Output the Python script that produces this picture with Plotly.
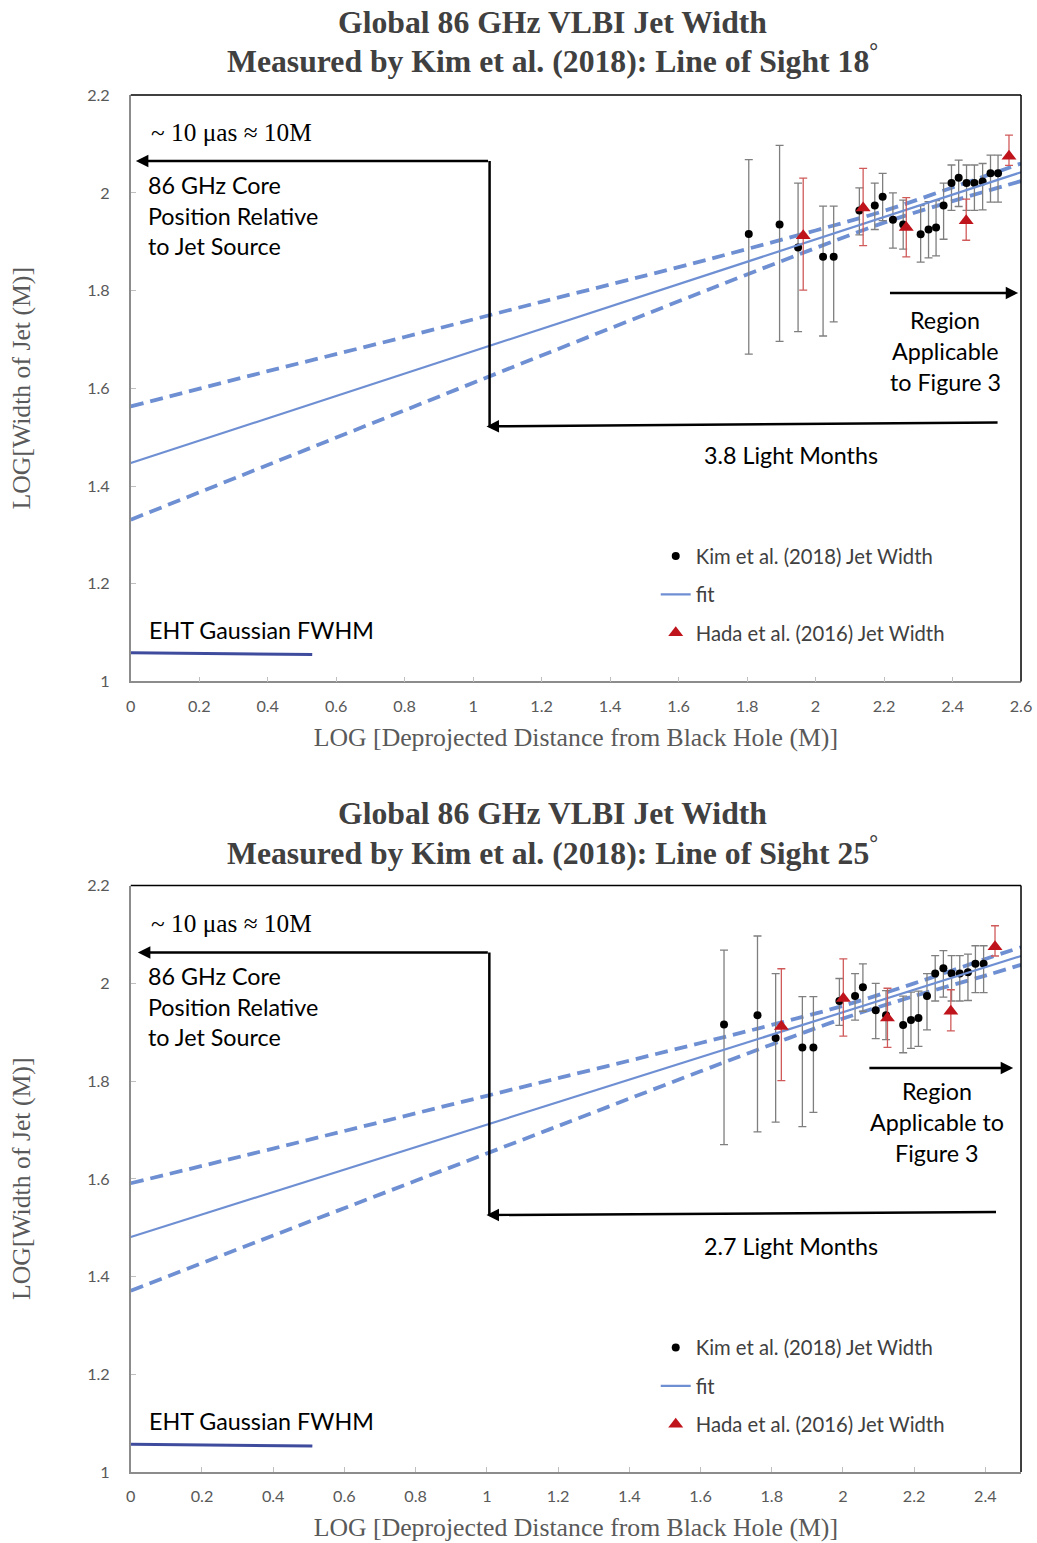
import plotly.graph_objects as go

# ---------------- data ----------------
kim_x18 = [1.805, 1.895, 1.949, 2.022, 2.053, 2.128, 2.173, 2.196, 2.226, 2.256, 2.307,
           2.330, 2.352, 2.374, 2.397, 2.418, 2.441, 2.464, 2.488, 2.511, 2.533]
kim_x25 = [1.666, 1.760, 1.811, 1.886, 1.917, 1.990, 2.034, 2.056, 2.092, 2.121, 2.169,
           2.191, 2.212, 2.236, 2.259, 2.282, 2.305, 2.328, 2.351, 2.372, 2.395]
kim_y = [1.916, 1.935, 1.888, 1.869, 1.869, 1.964, 1.974, 1.992, 1.945, 1.935, 1.915,
         1.925, 1.929, 1.974, 2.020, 2.031, 2.020, 2.020, 2.023, 2.040, 2.040]
kim_err_plus = [0.152, 0.162, 0.132, 0.104, 0.104, 0.046, 0.046, 0.048, 0.055, 0.050, 0.059,
                0.057, 0.055, 0.046, 0.037, 0.036, 0.037, 0.037, 0.037, 0.037, 0.037]
kim_err_minus = [0.246, 0.239, 0.172, 0.162, 0.133, 0.050, 0.049, 0.049, 0.058, 0.050, 0.057,
                 0.058, 0.058, 0.069, 0.056, 0.059, 0.056, 0.056, 0.058, 0.059, 0.059]

hada_x18 = [1.964, 2.139, 2.265, 2.440, 2.565]
hada_x25 = [1.827, 2.001, 2.125, 2.303, 2.427]
hada_y = [1.912, 1.969, 1.929, 1.943, 2.075]
hada_err_plus = [0.118, 0.081, 0.061, 0.044, 0.043]
hada_err_minus = [0.111, 0.077, 0.060, 0.040, 0.019]

fit_x18 = [0, 2.6]
fit_y18 = [1.447, 2.042]
band_x18 = [0, 0.4, 0.8, 1.2, 1.6, 1.8, 2.0, 2.2, 2.4, 2.6]
band_up18 = [1.563, 1.635, 1.705, 1.777, 1.848, 1.885, 1.923, 1.963, 2.011, 2.060]
band_lo18 = [1.331, 1.443, 1.555, 1.667, 1.778, 1.833, 1.887, 1.939, 1.983, 2.024]

fit_x25 = [0, 2.5]
fit_y25 = [1.481, 2.056]
band_x25 = [0, 0.4, 0.8, 1.2, 1.6, 1.8, 2.0, 2.2, 2.4, 2.5]
band_up25 = [1.591, 1.662, 1.734, 1.806, 1.878, 1.915, 1.954, 2.000, 2.050, 2.074]
band_lo25 = [1.371, 1.484, 1.596, 1.708, 1.820, 1.875, 1.928, 1.974, 2.016, 2.038]

eht_x18 = [0, 0.53]
eht_y18 = [1.059, 1.055]
eht_x25 = [0, 0.51]
eht_y25 = [1.057, 1.053]

core_x18 = [1.048, 0.015]
core_y18 = [2.065, 1.522]
lm_x18 = [2.536, 1.039]
lm_y18 = [1.530, 1.522]
reg_x18 = [2.213, 2.592]
reg_y18 = [1.795, 1.795]

core_x25 = [1.007, 0.020]
core_y25 = [2.063, 1.526]
lm_x25 = [2.434, 0.999]
lm_y25 = [1.532, 1.526]
reg_x25 = [2.070, 2.478]
reg_y25 = [1.827, 1.827]

x_ticks18 = [0, 0.2, 0.4, 0.6, 0.8, 1, 1.2, 1.4, 1.6, 1.8, 2, 2.2, 2.4, 2.6]
x_ticks25 = [0, 0.2, 0.4, 0.6, 0.8, 1, 1.2, 1.4, 1.6, 1.8, 2, 2.2, 2.4]
y_ticks = [1, 1.2, 1.4, 1.6, 1.8, 2, 2.2]

# ---------------- styling ----------------
W, H = 1037, 1543
# mapping from target picture pixels to figure pixels (compensates capture inset)
SX, OX = 0.9865, 4.0
SY, OY = 0.987, 10.0
K = 1 / SY                   # size compensation
FIT = "#6f8fd3"
RED = "#c0141c"
SANS = "Lato, 'Open Sans', sans-serif"
SERIF = "'Liberation Serif', 'Times New Roman', serif"


def px_x(p):
    return ((p - OX) / SX) / W


def px_y(p):
    return 1 - ((p - OY) / SY) / H


fig = go.Figure()


def add_panel(xa, ya, leg, kx, hx, fx, fy, bx, bup, blo, ex, ey):
    for band in (bup, blo):
        fig.add_trace(go.Scatter(x=bx, y=band, mode="lines", xaxis=xa, yaxis=ya, showlegend=False,
                                 line=dict(color=FIT, width=3.8, dash="13px,7px", shape="spline"),
                                 hoverinfo="skip"))
    fig.add_trace(go.Scatter(x=ex, y=ey, mode="lines", xaxis=xa, yaxis=ya, showlegend=False,
                             line=dict(color="#3f4c9e", width=3)))
    fig.add_trace(go.Scatter(x=kx, y=kim_y, mode="markers", xaxis=xa, yaxis=ya,
                             name="Kim et al. (2018) Jet Width", legend=leg, legendgroup=leg + "a",
                             marker=dict(color="black", size=8),
                             error_y=dict(type="data", symmetric=False, array=kim_err_plus,
                                          arrayminus=kim_err_minus, color="#7f7f7f",
                                          thickness=1.3, width=4)))
    fig.add_trace(go.Scatter(x=fx, y=fy, mode="lines", xaxis=xa, yaxis=ya,
                             name="fit", legend=leg, legendgroup=leg + "b",
                             line=dict(color=FIT, width=2.2)))
    fig.add_trace(go.Scatter(x=hx, y=hada_y, mode="markers", xaxis=xa, yaxis=ya,
                             name="Hada et al. (2016) Jet Width", legend=leg, legendgroup=leg + "c",
                             marker=dict(color=RED, size=13, symbol="triangle-up"),
                             error_y=dict(type="data", symmetric=False, array=hada_err_plus,
                                          arrayminus=hada_err_minus, color="#d05a5a",
                                          thickness=1.3, width=4)))


add_panel("x", "y", "legend", kim_x18, hada_x18, fit_x18, fit_y18,
          band_x18, band_up18, band_lo18, eht_x18, eht_y18)
add_panel("x2", "y2", "legend2", kim_x25, hada_x25, fit_x25, fit_y25,
          band_x25, band_up25, band_lo25, eht_x25, eht_y25)

xdom = [px_x(130), px_x(1022)]
top_dom = [px_y(681), px_y(95)]
bot_dom = [px_y(1471), px_y(885)]

axis_common = dict(showgrid=False, zeroline=False, showline=True, linecolor="#8c8c8c",
                   linewidth=1.5, ticks="inside", ticklen=5, tickcolor="#bfbfbf",
                   ticklabeloverflow="allow",
                   tickfont=dict(family=SANS, size=16 * K, color="#595959"))

xtitle = "LOG [Deprojected Distance from Black Hole (M)]"
ytitle = "LOG[Width of Jet (M)]"
tfont = dict(family=SERIF, size=25.4 * K, color="#595959")

fig.update_layout(
    width=W, height=H, margin=dict(l=0, r=0, t=0, b=0),
    paper_bgcolor="white", plot_bgcolor="white",
    xaxis=dict(domain=xdom, range=[0, 2.6001], anchor="y", tickvals=x_ticks18,
               title=dict(text=xtitle, font=tfont, standoff=14), ticklabelstandoff=9, **axis_common),
    yaxis=dict(domain=top_dom, range=[1, 2.2001], anchor="x", tickvals=y_ticks,
               title=dict(text=ytitle, font=tfont, standoff=49), ticklabelstandoff=16, **axis_common),
    xaxis2=dict(domain=xdom, range=[0, 2.5], anchor="y2", tickvals=x_ticks25,
                title=dict(text=xtitle, font=tfont, standoff=14), ticklabelstandoff=9, **axis_common),
    yaxis2=dict(domain=bot_dom, range=[1, 2.2001], anchor="x2", tickvals=y_ticks,
                title=dict(text=ytitle, font=tfont, standoff=49), ticklabelstandoff=16, **axis_common),
    legend=dict(x=px_x(656), y=px_y(536), xanchor="left", yanchor="top", bgcolor="rgba(0,0,0,0)",
                font=dict(family=SANS, size=20 * K, color="#404040"), tracegroupgap=9),
    legend2=dict(x=px_x(656), y=px_y(1327), xanchor="left", yanchor="top", bgcolor="rgba(0,0,0,0)",
                 font=dict(family=SANS, size=20 * K, color="#404040"), tracegroupgap=9),
    showlegend=True,
)

shapes = []
annots = []

for dom in (top_dom, bot_dom):
    shapes.append(dict(type="line", xref="paper", yref="paper", x0=xdom[0], x1=xdom[1],
                       y0=dom[1], y1=dom[1], line=dict(color="black", width=1.5)))
    shapes.append(dict(type="line", xref="paper", yref="paper", x0=xdom[1], x1=xdom[1],
                       y0=dom[0], y1=dom[1], line=dict(color="black", width=1.5)))


def arrow(xr, yr, x_tip, y_tip, x_from, y_from):
    annots.append(dict(x=x_tip, y=y_tip, ax=x_from, ay=y_from, xref=xr, yref=yr,
                       axref=xr, ayref=yr, text="", showarrow=True, arrowhead=2,
                       arrowsize=1, arrowwidth=2.5, arrowcolor="black", standoff=0, startstandoff=0))


def panel_annots(xr, yr, core_x, core_y, lm_x, lm_y, reg_x, reg_y, y_off, region_lines,
                 region_cx, region_y0, lm_text):
    shapes.append(dict(type="line", xref=xr, yref=yr, x0=core_x[0], x1=core_x[0],
                       y0=core_y[0], y1=core_y[1], line=dict(color="black", width=2.5)))
    arrow(xr, yr, core_x[1], core_y[0], core_x[0], core_y[0])
    arrow(xr, yr, lm_x[1], lm_y[1], lm_x[0], lm_y[0])
    arrow(xr, yr, reg_x[1], reg_y[1], reg_x[0], reg_y[0])

    def txt(t, x, y, font, xanchor="left"):
        annots.append(dict(text=t, x=px_x(x), y=px_y(y + y_off), xref="paper", yref="paper",
                           xanchor=xanchor, yanchor="middle", showarrow=False, font=font))

    f_sans = dict(family=SANS, size=23 * K, color="black")
    f_serif = dict(family=SERIF, size=25 * K, color="black")
    txt("~ 10 \u03bcas \u2248 10M", 148, 132, f_serif)
    txt("86 GHz Core", 145, 185, f_sans)
    txt("Position Relative", 145, 216, f_sans)
    txt("to Jet Source", 145, 246, f_sans)
    for i, line in enumerate(region_lines):
        txt(line, region_cx, region_y0 + 31 * i, f_sans, "center")
    txt(lm_text, 792, 455, f_sans, "center")
    txt("EHT Gaussian FWHM", 146, 630, f_sans)


panel_annots("x", "y", core_x18, core_y18, lm_x18, lm_y18, reg_x18, reg_y18, 0,
             ["Region", "Applicable", "to Figure 3"], 946, 320, "3.8 Light Months")
panel_annots("x2", "y2", core_x25, core_y25, lm_x25, lm_y25, reg_x25, reg_y25, 790,
             ["Region", "Applicable to", "Figure 3"], 938, 300, "2.7 Light Months")

tf = dict(family=SERIF, size=31.3 * K, color="#404040")
for y1, y2, ang in ((22, 59, "18"), (813, 850, "25")):
    annots.append(dict(text="<b>Global 86 GHz VLBI Jet Width</b>", x=px_x(553), y=px_y(y1),
                       xref="paper", yref="paper", showarrow=False, font=tf,
                       xanchor="center", yanchor="middle"))
    annots.append(dict(text="<b>Measured by Kim et al. (2018): Line of Sight " + ang +
                       "<sup>\u00b0</sup></b>", x=px_x(553), y=px_y(y2),
                       xref="paper", yref="paper", showarrow=False, font=tf,
                       xanchor="center", yanchor="middle"))

fig.update_layout(shapes=shapes, annotations=annots)
fig.write_html(
    "out.html",
    config={"displayModeBar": False},
    post_script=(
        "var de=document.documentElement,b=document.body;"
        "de.style.margin='0';de.style.padding='0';de.style.overflow='hidden';"
        "b.style.margin='0';b.style.padding='0';b.style.overflow='hidden';"
        "var d=document.getElementById('{plot_id}');"
        "d.style.position='fixed';d.style.left='0px';d.style.top='0px';"
    ),
)
